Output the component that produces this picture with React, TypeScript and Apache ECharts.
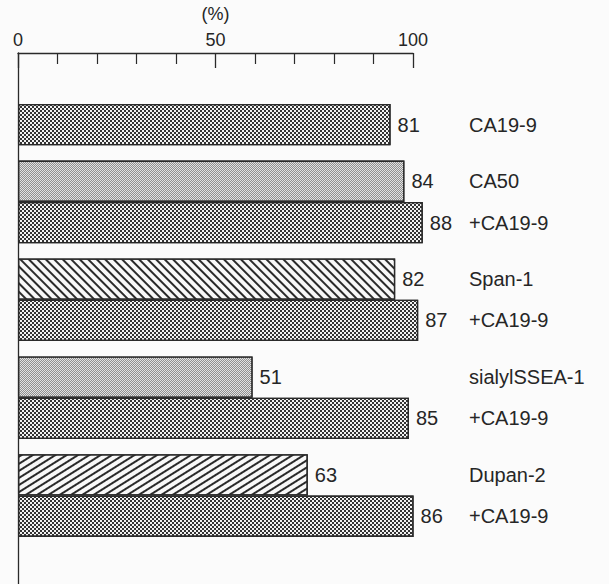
import React, { useEffect, useRef } from "react";
import * as echarts from "echarts";

// ---- data ----
const markers = ["CA19-9", "CA50", "+CA19-9", "Span-1", "+CA19-9", "sialylSSEA-1", "+CA19-9", "Dupan-2", "+CA19-9"];
const positivity = [81, 84, 88, 82, 87, 51, 85, 63, 86];
const groupSizes = [1, 2, 2, 2, 2];
const axisMin = 0;
const axisMax = 100;
const axisUnit = "(%)";

// ---- styles ----
const FONT = "'Liberation Sans', Arial, sans-serif";
const TEXT = "#262626";
const LINE = "#2a2a2a";

const dense = {
  color: "#f2f2f2",
  decal: { symbol: "rect", symbolSize: 1, color: "#333333", dashArrayX: [[2, 2], [0, 2, 2, 0]], dashArrayY: [2, 0] },
};
const light = {
  color: "#e2e2e2",
  decal: { symbol: "rect", symbolSize: 1, color: "#909090", dashArrayX: [[1, 1], [0, 1, 1, 0]], dashArrayY: [1, 0] },
};
const backslash = {
  color: "#f8f8f8",
  decal: { symbol: "rect", symbolSize: 1, color: "#2a2a2a", dashArrayX: [1, 0], dashArrayY: [1.6, 3.7], rotation: Math.PI / 4 },
};
const slash = {
  color: "#f8f8f8",
  decal: { symbol: "rect", symbolSize: 1, color: "#2a2a2a", dashArrayX: [1, 0], dashArrayY: [1.6, 3.7], rotation: -0.56 },
};
function patternFor(name: string) {
  if (name === "CA50" || name === "sialylSSEA-1") return light;
  if (name === "Span-1") return backslash;
  if (name === "Dupan-2") return slash;
  return dense;
}

// ---- layout ----
const W = 609;
const H = 584;
const AXIS_LEFT = 18;
const AXIS_RIGHT_PX = 413; // where the printed 100 tick sits
const BAR_RIGHT_PX = 478; // bars are drawn on a wider scale in the original figure
const AXIS_TOP = 50;
const FIRST_TOP = 104;
const BAR_H = 41.3;
const GAP = 15.3;

export default function App() {
  const ref = useRef<HTMLDivElement>(null);

  useEffect(() => {
    if (!ref.current) return;
    const chart = echarts.init(ref.current, null, { renderer: "svg" });

    const grid: any[] = [
      { left: AXIS_LEFT, right: W - AXIS_RIGHT_PX, top: AXIS_TOP, bottom: 0, containLabel: false },
    ];
    const xAxis: any[] = [
      {
        gridIndex: 0,
        type: "value",
        position: "top",
        min: axisMin,
        max: axisMax,
        interval: 50,
        name: axisUnit,
        nameLocation: "middle",
        nameGap: 30,
        nameTextStyle: { fontFamily: FONT, fontSize: 18, color: TEXT },
        axisLine: { show: true, onZero: false, lineStyle: { color: LINE, width: 1.3 } },
        axisTick: { show: true, inside: true, length: 15, lineStyle: { color: LINE, width: 1.3 } },
        minorTick: { show: true, splitNumber: 5, length: 11, lineStyle: { color: LINE, width: 1.2 } },
        axisLabel: { show: true, margin: 4, fontFamily: FONT, fontSize: 18, color: TEXT },
        splitLine: { show: false },
        minorSplitLine: { show: false },
      },
    ];
    const yAxis: any[] = [
      {
        gridIndex: 0,
        type: "value",
        min: 0,
        max: 1,
        axisLine: { show: true, onZero: false, lineStyle: { color: LINE, width: 1.3 } },
        axisTick: { show: false },
        axisLabel: { show: false },
        splitLine: { show: false },
      },
    ];
    const series: any[] = [];

    let start = 0;
    groupSizes.forEach((size, g) => {
      const idx = g + 1;
      const top = FIRST_TOP + start * BAR_H + g * GAP;
      const names = markers.slice(start, start + size);
      const vals = positivity.slice(start, start + size);
      grid.push({ left: AXIS_LEFT, right: W - BAR_RIGHT_PX, top, height: size * BAR_H, containLabel: false });
      xAxis.push({ gridIndex: idx, type: "value", min: axisMin, max: axisMax, show: false });
      yAxis.push({
        gridIndex: idx,
        type: "category",
        inverse: true,
        position: "right",
        data: names,
        axisLine: { show: false },
        axisTick: { show: false },
        splitLine: { show: false },
        axisLabel: { show: true, margin: -9, align: "left", fontFamily: FONT, fontSize: 20, color: TEXT },
      });
      series.push({
        type: "bar",
        xAxisIndex: idx,
        yAxisIndex: idx,
        barCategoryGap: "0%",
        data: vals.map((v, k) => {
          const p = patternFor(names[k]);
          return {
            value: v,
            itemStyle: { color: p.color, decal: p.decal, borderColor: LINE, borderWidth: 1.3 },
          };
        }),
        label: { show: true, position: "right", distance: 7, fontFamily: FONT, fontSize: 20, color: TEXT },
      });
      start += size;
    });

    chart.setOption({
      animation: false,
      backgroundColor: "#fbfbfb",
      grid,
      xAxis,
      yAxis,
      series,
    });

    return () => chart.dispose();
  }, []);

  return <div ref={ref} style={{ position: "absolute", left: 0, top: 0, width: W, height: H }} />;
}
